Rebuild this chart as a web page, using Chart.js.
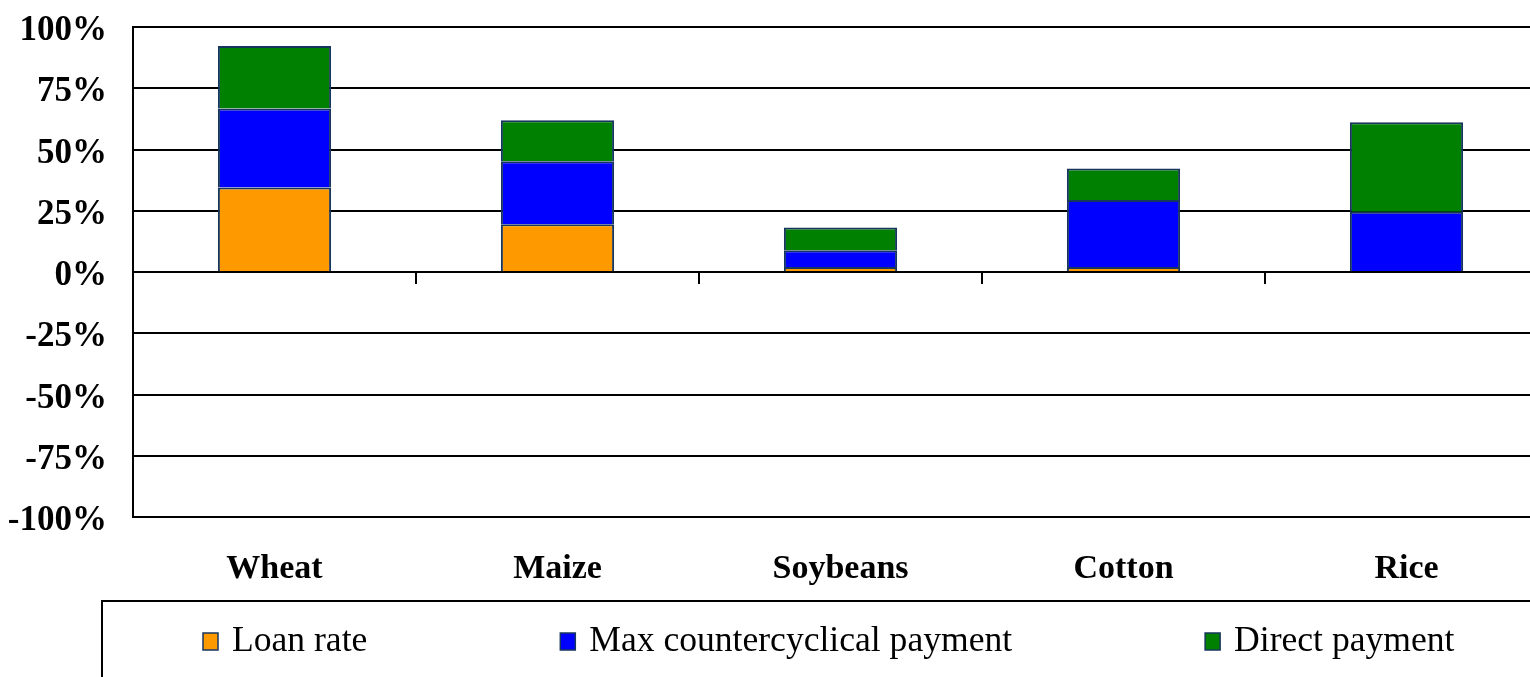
<!DOCTYPE html>
<html>
<head>
<meta charset="utf-8">
<script src="https://cdn.jsdelivr.net/npm/chart.js@4.4.1/dist/chart.umd.min.js"></script>
<style>
  html, body { margin: 0; padding: 0; background: #fff; overflow: hidden; }
  #wrap { width: 1550px; height: 677px; position: relative; }
</style>
</head>
<body>
<div id="wrap"><canvas id="chart"></canvas></div>
<script>
const categories = ['Wheat', 'Maize', 'Soybeans', 'Cotton', 'Rice'];
const loanRate = [34.5, 19.5, 2.0, 2.0, 0];
const maxCountercyclical = [32.2, 25.7, 6.9, 27.4, 24.6];
const directPayment = [25.5, 16.7, 9.3, 12.8, 36.5];
const yTicks = [-100, -75, -50, -25, 0, 25, 50, 75, 100];

const serif = "'Liberation Serif', 'Times New Roman', serif";

// Small tick marks on the zero line between categories (Excel style)
const zeroTicks = {
  id: 'zeroTicks',
  afterDatasetsDraw(chart) {
    const { ctx, scales: { x, y } } = chart;
    const y0 = y.getPixelForValue(0);
    ctx.save();
    ctx.strokeStyle = '#000';
    ctx.lineWidth = 2;
    for (let i = 0; i < categories.length - 1; i++) {
      const px = Math.round((x.getPixelForValue(i) + x.getPixelForValue(i + 1)) / 2);
      ctx.beginPath();
      ctx.moveTo(px, y0);
      ctx.lineTo(px, y0 + 12);
      ctx.stroke();
    }
    ctx.restore();
  }
};

// Boxed legend along the bottom
const boxLegend = {
  id: 'boxLegend',
  afterDraw(chart) {
    const ctx = chart.ctx;
    ctx.save();
    ctx.strokeStyle = '#000';
    ctx.lineWidth = 2;
    ctx.strokeRect(102, 601, chart.width + 20, 120);
    ctx.font = '35.6px ' + serif;
    ctx.textBaseline = 'middle';
    let x = 203;
    const cy = 642;
    chart.data.datasets.forEach(ds => {
      ctx.fillStyle = ds.backgroundColor;
      ctx.fillRect(x, cy - 9, 15, 17);
      ctx.strokeStyle = '#17365D';
      ctx.lineWidth = 1.5;
      ctx.strokeRect(x, cy - 9, 15, 17);
      ctx.fillStyle = '#000';
      ctx.fillText(ds.label, x + 29, cy);
      x += 29 + ctx.measureText(ds.label).width + 193;
    });
    ctx.restore();
  }
};

new Chart(document.getElementById('chart'), {
  type: 'bar',
  data: {
    labels: categories,
    datasets: [
      { label: 'Loan rate', data: loanRate, backgroundColor: '#FF9900' },
      { label: 'Max countercyclical payment', data: maxCountercyclical, backgroundColor: '#0000FF' },
      { label: 'Direct payment', data: directPayment, backgroundColor: '#008000' }
    ]
  },
  options: {
    responsive: true,
    maintainAspectRatio: false,
    animation: false,
    datasets: {
      bar: {
        categoryPercentage: 1,
        barPercentage: 0.4,
        borderColor: '#17365D',
        borderWidth: { top: 2, left: 2, right: 2, bottom: 0 },
        borderSkipped: false
      }
    },
    layout: { padding: { top: 27, bottom: 80, left: 0, right: 2 } },
    plugins: {
      legend: { display: false },
      tooltip: { enabled: false }
    },
    scales: {
      x: {
        stacked: true,
        grid: { display: false },
        border: { display: true, color: '#000', width: 2 },
        ticks: {
          color: '#000',
          padding: 24,
          font: { family: serif, size: 34, weight: 'bold' }
        },
        afterFit(axis) {
          axis.height = 80;
          axis.paddingLeft = 0;
          axis.paddingRight = 0;
        }
      },
      y: {
        stacked: true,
        min: -100,
        max: 100,
        afterBuildTicks(axis) {
          axis.ticks = yTicks.map(v => ({ value: v }));
        },
        grid: { color: '#000', lineWidth: 2, drawTicks: false },
        border: { display: true, color: '#000', width: 2 },
        ticks: {
          color: '#000',
          padding: 26,
          labelOffset: 4,
          font: { family: serif, size: 35, weight: 'bold' },
          callback: v => v + '%'
        },
        afterFit(axis) {
          axis.width = 133;
          axis.paddingTop = 0;
          axis.paddingBottom = 0;
        }
      }
    }
  },
  plugins: [zeroTicks, boxLegend]
});
</script>
</body>
</html>
